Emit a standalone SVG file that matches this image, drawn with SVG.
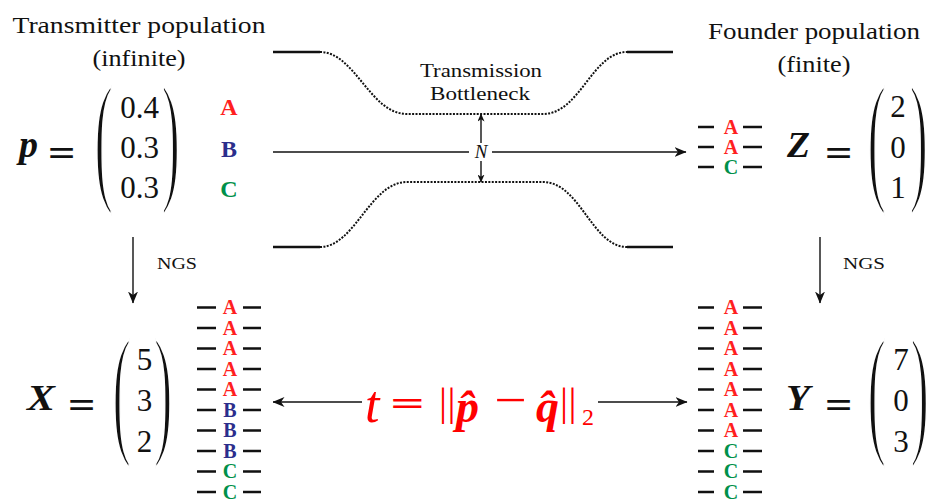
<svg xmlns="http://www.w3.org/2000/svg" width="930" height="502" viewBox="0 0 930 502" font-family="Liberation Serif, serif">
<defs>
<marker id="ah" viewBox="0 0 12 10" refX="11.5" refY="5" markerWidth="12" markerHeight="10" orient="auto" markerUnits="userSpaceOnUse">
<path d="M0,0 L12,5 L0,10 L3.5,5 z" fill="#111"/>
</marker>
<marker id="ahs" viewBox="0 0 8 7" refX="7.5" refY="3.5" markerWidth="8" markerHeight="7" orient="auto" markerUnits="userSpaceOnUse">
<path d="M0,0 L8,3.5 L0,7 L2.2,3.5 z" fill="#111"/>
</marker>
</defs>
<style>
.t{font-family:"Liberation Serif",serif;fill:#111}
.bi{font-family:"Liberation Serif",serif;font-weight:bold;font-style:italic;fill:#111}
.it{font-family:"Liberation Serif",serif;font-style:italic;fill:#111}
.lb{font-family:"Liberation Serif",serif;font-weight:bold;text-anchor:middle}
.eq{font-family:"DejaVu Serif",serif;fill:#111}
.par{font-family:"Liberation Serif",serif;fill:#111;stroke:#fff;stroke-width:2.6;vector-effect:non-scaling-stroke}
.ra{fill:#ff1f1f}
.bb{fill:#2b2e8c}
.gc{fill:#00904a}
.red{fill:#ff0000}
.dash{stroke:#111;stroke-width:2.6}
.sol{fill:none;stroke:#111;stroke-width:2.6}
.dot{fill:none;stroke:#111;stroke-width:2;stroke-dasharray:2 1.4}
.con{fill:none;stroke:#111;stroke-width:1.4}
</style>

<g id="transmitter-title">
<text class="t" x="139" y="33" font-size="24" text-anchor="middle" textLength="253" lengthAdjust="spacingAndGlyphs">Transmitter population</text>
<text class="t" x="139" y="66" font-size="24" text-anchor="middle" textLength="93" lengthAdjust="spacingAndGlyphs">(infinite)</text>
</g>

<g id="founder-title">
<text class="t" x="814" y="39" font-size="23" text-anchor="middle" textLength="212" lengthAdjust="spacingAndGlyphs">Founder population</text>
<text class="t" x="814" y="72" font-size="23" text-anchor="middle" textLength="73" lengthAdjust="spacingAndGlyphs">(finite)</text>
</g>

<g id="p-vector">
<text class="bi" x="19" y="157" font-size="38">p</text>
<text class="eq" x="46.4" y="164.3" font-size="36">=</text>
<text class="par" font-size="48" transform="translate(94.4,185.3) scale(1.15,3)">(</text>
<text class="t" font-size="31" x="139.5" y="118" text-anchor="middle">0.4</text>
<text class="t" font-size="31" x="139.5" y="158" text-anchor="middle">0.3</text>
<text class="t" font-size="31" x="139.5" y="198" text-anchor="middle">0.3</text>
<text class="par" font-size="48" transform="translate(161.4,185.3) scale(1.15,3)">)</text>
<text class="lb ra" x="229" y="115" font-size="24">A</text>
<text class="lb bb" x="229" y="157" font-size="24">B</text>
<text class="lb gc" x="229" y="197" font-size="24">C</text>
</g>

<g id="bottleneck">
<path class="sol" d="M273,52 H320 M627,52 H673 M273,247 H320 M627,247 H673"/>
<path class="dot" d="M320,52 C355,52 370,114 407,114 H543 C580,114 592,52 627,52"/>
<path class="dot" d="M320,247 C355,247 370,182 407,182 H543 C580,182 592,247 627,247"/>
<text class="t" x="481" y="77" font-size="19" text-anchor="middle" textLength="122" lengthAdjust="spacingAndGlyphs">Transmission</text>
<text class="t" x="480" y="100" font-size="19" text-anchor="middle" textLength="100" lengthAdjust="spacingAndGlyphs">Bottleneck</text>
<text class="it" x="481" y="158" font-size="19" text-anchor="middle">N</text>
</g>

<g id="founder-reads">
<path class="dash" d="M698,127 H714 M743,127 H762 M698,147 H714 M743,147 H762 M698,167 H714 M743,167 H762"/>
<text class="lb ra" x="731" y="134" font-size="20">A</text>
<text class="lb ra" x="731" y="154" font-size="20">A</text>
<text class="lb gc" x="731" y="174" font-size="20">C</text>
</g>

<g id="z-vector">
<text class="bi" x="787" y="157" font-size="35" textLength="23" lengthAdjust="spacingAndGlyphs">Z</text>
<text class="eq" x="823.4" y="164.3" font-size="36">=</text>
<text class="par" font-size="48" transform="translate(867.4,185.3) scale(1.15,3)">(</text>
<text class="t" font-size="31" x="898" y="117" text-anchor="middle">2</text>
<text class="t" font-size="31" x="898" y="158" text-anchor="middle">0</text>
<text class="t" font-size="31" x="898" y="198" text-anchor="middle">1</text>
<text class="par" font-size="48" transform="translate(909.4,185.3) scale(1.15,3)">)</text>
</g>

<g id="x-vector">
<text class="bi" x="27" y="410" font-size="35" textLength="28" lengthAdjust="spacingAndGlyphs">X</text>
<text class="eq" x="66.4" y="416.3" font-size="36">=</text>
<text class="par" font-size="48" transform="translate(112.4,438.3) scale(1.15,3)">(</text>
<text class="t" font-size="31" x="144.5" y="370" text-anchor="middle">5</text>
<text class="t" font-size="31" x="144.5" y="411" text-anchor="middle">3</text>
<text class="t" font-size="31" x="144.5" y="452" text-anchor="middle">2</text>
<text class="par" font-size="48" transform="translate(154,438.3) scale(1.15,3)">)</text>
</g>

<g id="transmitter-reads">
<path class="dash" d="M197,307.5 H216 M243,307.5 H261 M197,328 H216 M243,328 H261 M197,348.5 H216 M243,348.5 H261 M197,369 H216 M243,369 H261 M197,389.5 H216 M243,389.5 H261 M197,410 H216 M243,410 H261 M197,430.5 H216 M243,430.5 H261 M197,451 H216 M243,451 H261 M197,471.5 H216 M243,471.5 H261 M197,492 H216 M243,492 H261"/>
<text class="lb ra" x="230" y="314" font-size="20">A</text>
<text class="lb ra" x="230" y="334.5" font-size="20">A</text>
<text class="lb ra" x="230" y="355" font-size="20">A</text>
<text class="lb ra" x="230" y="375.5" font-size="20">A</text>
<text class="lb ra" x="230" y="396" font-size="20">A</text>
<text class="lb bb" x="230" y="416.5" font-size="20">B</text>
<text class="lb bb" x="230" y="437" font-size="20">B</text>
<text class="lb bb" x="230" y="457.5" font-size="20">B</text>
<text class="lb gc" x="230" y="478" font-size="20">C</text>
<text class="lb gc" x="230" y="498.5" font-size="20">C</text>
</g>

<g id="founder-ngs-reads">
<path class="dash" d="M698,307.5 H714 M743,307.5 H762 M698,328 H714 M743,328 H762 M698,348.5 H714 M743,348.5 H762 M698,369 H714 M743,369 H762 M698,389.5 H714 M743,389.5 H762 M698,410 H714 M743,410 H762 M698,430.5 H714 M743,430.5 H762 M698,451 H714 M743,451 H762 M698,471.5 H714 M743,471.5 H762 M698,492 H714 M743,492 H762"/>
<text class="lb ra" x="731" y="314" font-size="20">A</text>
<text class="lb ra" x="731" y="334.5" font-size="20">A</text>
<text class="lb ra" x="731" y="355" font-size="20">A</text>
<text class="lb ra" x="731" y="375.5" font-size="20">A</text>
<text class="lb ra" x="731" y="396" font-size="20">A</text>
<text class="lb ra" x="731" y="416.5" font-size="20">A</text>
<text class="lb ra" x="731" y="437" font-size="20">A</text>
<text class="lb gc" x="731" y="457.5" font-size="20">C</text>
<text class="lb gc" x="731" y="478" font-size="20">C</text>
<text class="lb gc" x="731" y="498.5" font-size="20">C</text>
</g>

<g id="y-vector">
<text class="bi" x="786" y="410" font-size="35" textLength="24" lengthAdjust="spacingAndGlyphs">Y</text>
<text class="eq" x="823.4" y="416.3" font-size="36">=</text>
<text class="par" font-size="48" transform="translate(867.4,438.3) scale(1.15,3)">(</text>
<text class="t" font-size="31" x="901" y="370" text-anchor="middle">7</text>
<text class="t" font-size="31" x="901" y="411" text-anchor="middle">0</text>
<text class="t" font-size="31" x="901" y="452" text-anchor="middle">3</text>
<text class="par" font-size="48" transform="translate(910.4,438.3) scale(1.15,3)">)</text>
</g>

<g id="statistic">
<text class="it red" x="365" y="422" font-size="52">t</text>
<text class="eq red" font-size="45" transform="translate(388.5,413.8) scale(1,0.7)">=</text>
<text class="t red" x="439" y="415" font-size="40" letter-spacing="0.5">||</text>
<text class="bi red" x="456" y="422" font-size="46">p̂</text>
<text class="t red" font-size="48" transform="translate(494,416) scale(1.2,1)">−</text>
<text class="bi red" x="536" y="422" font-size="46">q̂</text>
<text class="t red" x="560" y="415" font-size="40" letter-spacing="0.5">||</text>
<text class="t red" x="582" y="425" font-size="24">2</text>
</g>

<g id="connectors">
<path class="con" d="M273,152 H469"/>
<path class="con" d="M492,152 H686" marker-end="url(#ah)"/>
<path class="con" d="M481,143 V114" marker-end="url(#ahs)" stroke-width="1"/>
<path class="con" d="M481,161 V182" marker-end="url(#ahs)" stroke-width="1"/>
<path class="con" d="M133,237 V303" marker-end="url(#ah)"/>
<path class="con" d="M820,237 V303" marker-end="url(#ah)"/>
<path class="con" d="M362,402 H273" marker-end="url(#ah)"/>
<path class="con" d="M598,402 H687" marker-end="url(#ah)"/>
</g>
<g id="ngs-labels">
<text class="t" x="157" y="269" font-size="16" textLength="40" lengthAdjust="spacingAndGlyphs">NGS</text>
<text class="t" x="843" y="269" font-size="16" textLength="42" lengthAdjust="spacingAndGlyphs">NGS</text>
</g>
</svg>
